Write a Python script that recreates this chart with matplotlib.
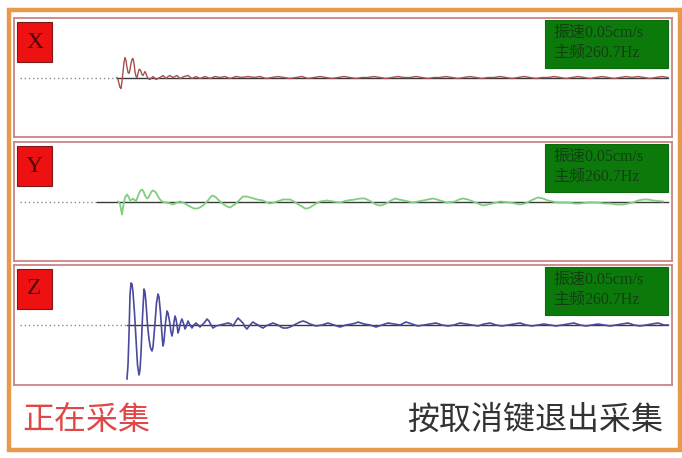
import matplotlib
matplotlib.use("Agg")
import matplotlib.pyplot as plt
from matplotlib.patches import Rectangle

W, H = 682, 458

# ---------------- data (time in samples, amplitude in display units) ----------------
channels = ["X", "Y", "Z"]
trace_colors = ["#a85050", "#7fcf7f", "#4a4aa0"]
line_widths = [1.0, 1.3, 1.2]
info_lines = ["振速0.05cm/s", "主频260.7Hz"]
status_left = "正在采集"
status_right = "按取消键退出采集"

# where the (solid) base line starts on each channel
base_start = [117, 97, 127]

x_trace = [
    (117, 0), (118, -2), (119, -6), (120, -10), (121, -11), (122, -4), (123, 6), (124, 15),
    (125, 20), (126, 17), (127, 10), (128, 5), (129, 4), (130, 8), (131, 14), (132, 18),
    (133, 19), (134, 14), (135, 6), (136, 1), (137, 0), (138, 4), (139, 8), (140, 8),
    (141, 6), (142, 3), (143, 2), (144, 4), (145, 6), (146, 4), (147, 1), (148, -1),
    (150, -2), (152, 0), (153, 1), (155, -1), (156, -2), (158, -1), (160, 0), (163, 2),
    (166, -1), (168, 1), (170, 2), (173, 0), (177, 2), (180, -1), (184, 1), (188, 2),
    (192, -1), (196, 1), (200, -1), (205, 1), (210, -1), (215, 1), (220, 0), (225, 1),
    (230, -1), (236, 1), (242, 0), (248, 1), (254, 0), (260, 1), (266, -1), (272, 0),
    (278, 1), (284, 0), (290, -1), (296, 0), (302, 1), (308, -1), (314, 0), (320, 1),
    (326, 0), (332, -1), (338, 0), (344, 1), (350, 0), (356, -1), (362, 0), (368, 0),
    (374, 1), (380, 0), (386, -1), (392, 0), (398, 1), (404, 0), (410, 0), (416, 1),
    (422, 0), (428, -1), (434, 0), (440, 0), (446, 1), (452, 0), (458, -1), (464, 0),
    (470, 1), (476, 0), (482, -1), (488, 0), (494, 0), (500, 1), (506, 0), (512, -1),
    (518, 0), (524, 1), (530, 0), (536, -1), (542, 0), (548, 0), (554, 1), (560, 0),
    (566, -1), (572, 0), (578, 1), (584, 0), (590, -1), (596, 0), (602, 1), (608, 0),
    (614, -1), (620, 0), (626, 1), (632, 0), (638, 1), (644, 0), (650, -1), (656, 0),
    (662, 1), (668, 0),
]

y_trace = [
    (118, 0), (120, -2), (121, -8), (122, -13), (123, -6), (124, -1), (125, 4), (127, 7),
    (129, 4), (130, 1), (132, 2), (133, 3), (135, 1), (136, 0), (137, 3), (139, 8),
    (140.5, 11), (142, 12), (143.5, 10), (145, 6), (147, 3), (148.5, 4), (150, 7),
    (151.5, 10), (153, 11), (155, 10), (156.5, 8), (158, 5), (160, 2), (162, 0),
    (165, -1), (167, -1), (170, -2), (173, -3), (177, -1), (180, 0), (183, -1),
    (185, -2), (188, -4), (190, -5), (194, -7), (197, -7), (200, -6), (203, -4),
    (206, -1), (208, 1), (211, 5), (213, 6), (216, 4), (218, 2), (221, -1), (224, -3),
    (227, -5), (230, -6), (233, -4), (236, -2), (240, 2), (243, 5), (247, 5), (250, 4),
    (257, 2), (263, 1), (267, -1), (270, -2), (274, -1), (277, 0), (280, 1), (283, 2),
    (290, 2), (294, 0), (297, -2), (300, -4), (302, -5), (305, -7), (307, -7),
    (310, -6), (313, -4), (316, -2), (320, 0), (327, 1), (333, 0), (340, -1), (347, 1),
    (355, 2), (360, 3), (365, 3), (371, 0), (376, -3), (380, -4), (384, -3), (388, -1),
    (391, 1), (395, 3), (399, 2), (404, 1), (413, -1), (418, 0), (423, 1), (428, 2),
    (433, 3), (437, 2), (440, 1), (447, -1), (455, 0), (459, 2), (463, 3), (468, 2),
    (473, 0), (478, -2), (483, -4), (488, -3), (492, -2), (500, 0), (510, -1),
    (515, -2), (520, -3), (525, -2), (529, 0), (533, 2), (538, 4), (543, 3), (548, 1),
    (557, -1), (568, -1), (575, -2), (580, -2), (588, -1), (597, -1), (604, -2),
    (610, -2), (617, -3), (623, -3), (628, -2), (633, -1), (638, 1), (643, 2),
    (648, 2), (653, 1), (663, 0),
]

z_trace = [
    (127, -54), (128, -40), (129, -10), (130, 30), (131, 42), (132, 41), (133, 33),
    (134.5, 12), (136, -15), (137.5, -40), (139, -50), (140, -45), (141, -28),
    (142.5, 8), (144, 36), (145, 33), (146, 22), (147.5, 0), (149, -14), (150.5, -23),
    (152, -26), (153, -22), (155, 2), (156.5, 22), (158, 31), (159, 28), (160.5, 12),
    (162, -10), (163, -21), (164, -16), (165.5, 2), (167, 14), (168, 12), (169.5, 4),
    (171, -7), (172, -11), (173, -6), (174, 3), (175, 9), (176, 6), (177, 0), (178, -8),
    (179, -5), (180, 0), (181, 4), (182, 6), (183, 3), (184, 0), (185, -4), (186, -2),
    (187, 1), (188, 4), (189, 2), (190, 0), (192, -3), (194, 0), (196, 2), (198, 0),
    (200, -2), (203, 1), (205, 3), (207, 6), (209, 4), (211, 0), (213, -3), (216, -1),
    (220, 0), (224, 1), (228, 2), (231, 1), (233, -1), (236, 4), (238, 7), (240, 5),
    (243, 2), (245, -2), (247, -4), (250, 0), (253, 3), (256, 1), (258, 0), (261, -2),
    (263, -3), (266, -1), (268, 0), (273, 2), (278, 0), (281, -2), (283, -3), (287, -3),
    (290, -2), (296, 1), (300, 3), (303, 4), (306, 3), (310, 1), (316, -1), (322, 0),
    (328, 2), (334, 0), (340, -2), (346, 0), (352, 1), (356, 2), (358, 3), (361, 2),
    (364, 1), (370, 0), (376, -2), (382, 0), (388, 2), (394, 1), (400, 0), (404, 2),
    (406, 3), (409, 2), (412, 1), (418, -1), (424, 0), (430, 1), (436, 2), (442, 0),
    (448, -1), (454, 0), (460, 2), (466, 1), (472, 0), (478, -1), (484, 1), (490, 2),
    (496, 0), (502, -1), (508, 0), (514, 1), (520, 2), (526, 0), (532, -1), (538, 0),
    (544, 1), (550, 0), (556, -1), (562, 0), (568, 1), (574, 2), (580, 0), (586, -1),
    (592, 0), (598, 1), (604, 0), (610, -1), (616, 0), (622, 1), (628, 2), (634, 0),
    (640, -1), (646, 0), (652, 1), (658, 2), (664, 0), (668, 0),
]
traces = [x_trace, y_trace, z_trace]

# ---------------- layout ----------------
panel_boxes = [(14, 18, 672, 137), (14, 142, 672, 261), (14, 265, 672, 385)]


def fx(x):
    return x / W


def fy(y):
    return 1 - y / H


fig = plt.figure(figsize=(W / 100, H / 100), dpi=100)
fig.patch.set_facecolor("white")

# outer orange frame
fig.patches.append(Rectangle((fx(9), fy(450)), fx(680) - fx(9), fy(10) - fy(450),
                             transform=fig.transFigure, fill=False,
                             edgecolor="#e89a4c", linewidth=3.2, zorder=0))

cjk_serif = ["Liberation Serif", "Noto Sans CJK SC"]

for i, (x0, y0, x1, y1) in enumerate(panel_boxes):
    ax = fig.add_axes([fx(x0), fy(y1), fx(x1) - fx(x0), fy(y0) - fy(y1)])
    half = (y1 - y0) / 2
    ax.set_xlim(x0, x1)
    ax.set_ylim(-half, half)
    ax.set_xticks([])
    ax.set_yticks([])
    for s in ax.spines.values():
        s.set_edgecolor("#c98585")
        s.set_linewidth(1.3)

    # dotted zero line before the trigger, solid after it
    ax.plot([x0 + 6, base_start[i]], [0, 0], color="#8a8a8a", lw=1.0,
            linestyle=(0, (1, 2)))
    ax.plot([base_start[i], x1 - 4], [0, 0], color="#3a3a3a", lw=1.0, zorder=2)

    t = [p[0] for p in traces[i]]
    v = [p[1] for p in traces[i]]
    ax.plot(t, v, color=trace_colors[i], lw=line_widths[i], zorder=3,
            solid_joinstyle="round")

    # channel label box
    fig.patches.append(Rectangle((fx(17), fy(y0 + 44)), fx(52) - fx(17), fy(y0 + 4) - fy(y0 + 44),
                                 transform=fig.transFigure, facecolor="#ee1111",
                                 edgecolor="#7a1a1a", linewidth=0.8, zorder=5))
    fig.text(fx(34.5), fy(y0 + 24), channels[i], fontsize=17, family="Liberation Serif",
             color="#4a0808", ha="center", va="center", zorder=6)

    # info box
    fig.patches.append(Rectangle((fx(545), fy(y0 + 50)), fx(668) - fx(545), fy(y0 + 2) - fy(y0 + 50),
                                 transform=fig.transFigure, facecolor="#0b7a0b",
                                 edgecolor="#0b6a0b", linewidth=0.8, zorder=5))
    fig.text(fx(553), fy(y0 + 15), info_lines[0], fontsize=11.5, family=cjk_serif,
             color="#143e14", ha="left", va="center", zorder=6)
    fig.text(fx(553), fy(y0 + 35), info_lines[1], fontsize=11.5, family=cjk_serif,
             color="#143e14", ha="left", va="center", zorder=6)

fig.text(fx(22), fy(420), status_left, fontsize=23, family=["Noto Sans CJK SC"],
         fontweight="light", color="#e04848", ha="left", va="center")
fig.text(fx(663), fy(420), status_right, fontsize=23, family=["Noto Sans CJK SC"],
         fontweight="light", color="#333333", ha="right", va="center")

fig.savefig("out.png", dpi=100, facecolor="white")
